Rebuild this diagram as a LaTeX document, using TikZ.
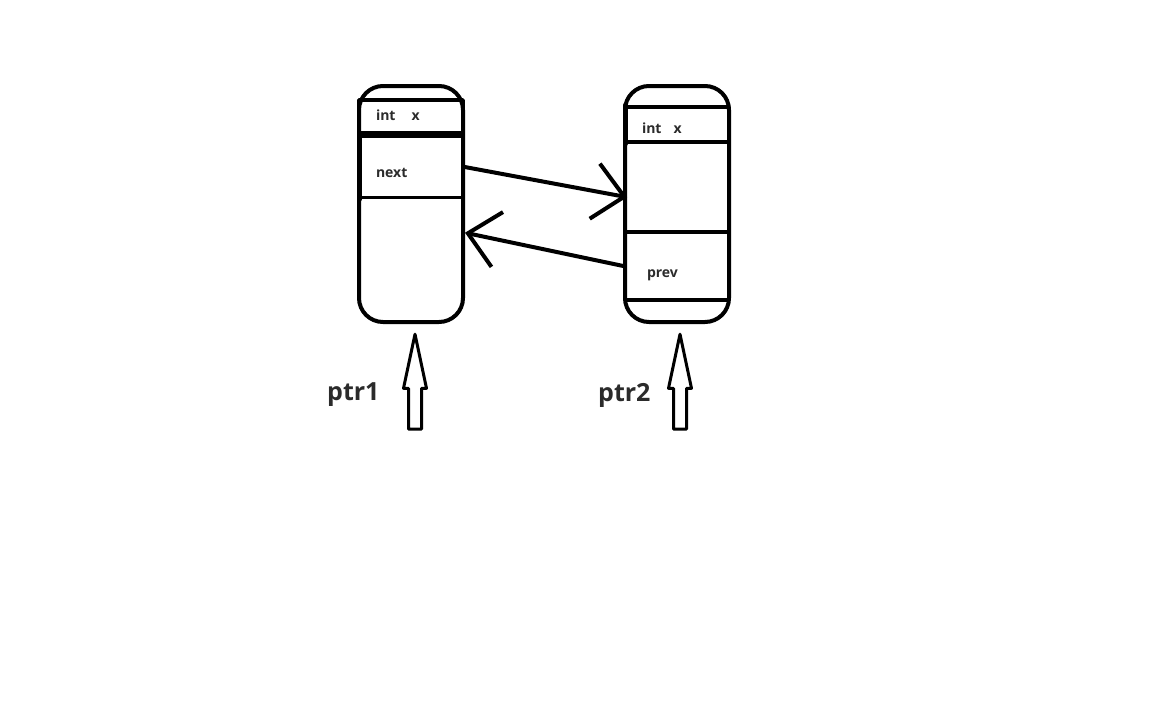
\documentclass[tikz,border=0pt]{standalone}
\usepackage{fontspec}
\setsansfont{Open Sans}
\usetikzlibrary{arrows.meta,positioning,shapes.arrows}
\definecolor{txtgray}{HTML}{2B2B2B}

\begin{document}
\begin{tikzpicture}[x=1pt, y=-1pt, >={Straight Barb[length=30pt,width=56pt]},
    line cap=round, line join=round,
    every node/.style={font=\sffamily\bfseries, text=txtgray},
    memcell/.style={draw, line width=4pt, rounded corners=24pt, minimum width=104pt, minimum height=236pt, inner sep=0pt},
    field/.style={draw, line width=3.5pt, inner xsep=17pt, inner ysep=0pt, text width=70pt, align=left, text depth=0pt,
        font=\sffamily\bfseries\fontsize{14}{16}\selectfont},
    link/.style={->, line width=4pt},
    ptrarrow/.style={draw, line width=3pt, shape=single arrow, rotate=90, anchor=tip, minimum height=95pt, minimum width=20pt,
        single arrow head extend=5pt, single arrow tip angle=24, inner xsep=0pt, inner ysep=5pt},
    ptrname/.style={font=\sffamily\bfseries\fontsize{25}{29}\selectfont}
    ]
\useasboundingbox (0,0) rectangle (1152,720);
% node 1
\node[memcell] (cell1) at (411,204) {};
\node[field, minimum height=33pt, text height=8pt] (val1) at (411,116.5) {int\hspace{16pt}x};
\node[field, minimum height=61pt, text height=21pt, below=0pt of val1] (nxt1) {next};
\draw[line width=5pt] ([xshift=2pt]nxt1.north west) -- ([xshift=2pt]nxt1.south west);
% node 2
\node[memcell] (cell2) at (677,204) {};
\node[field, minimum height=35pt, text height=17pt] (val2) at (677,124.5) {int\hspace{12pt}x};
\node[field, minimum height=90pt, below=-3.5pt of val2] (emp2) {};
\node[field, minimum height=68pt, text height=22pt, below=-3.5pt of emp2] (prv2) {\hspace{5pt}prev};
\draw[line width=5pt] ([xshift=2pt]val2.north west) -- ([xshift=2pt]val2.south west);
% links
\path[link]
(nxt1.east) edge [shorten >=-4pt] (emp2.190)
(prv2.west) edge [] (cell1.332)
;
% pointers
\node[ptrarrow] (up1) at (415,327) {};
\node[ptrarrow] (up2) at (680,327) {};
\node[ptrname, left=32pt of up1.center, yshift=2pt] (ptr1) {ptr1};
\node[ptrname, left=26pt of up2.center, yshift=2pt] (ptr2) {ptr2};
\end{tikzpicture}
\end{document}
